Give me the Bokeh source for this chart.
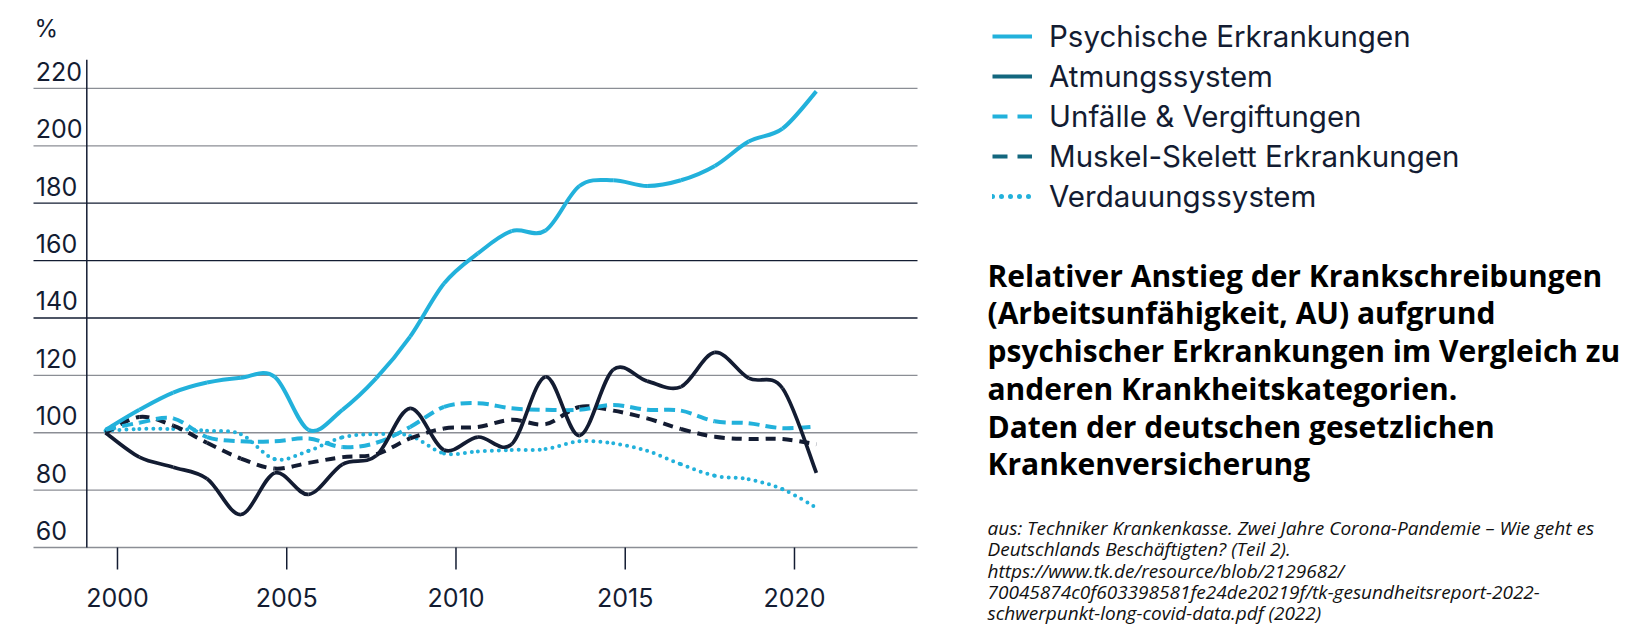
from bokeh.plotting import figure
from bokeh.models import Range1d, Label, Legend, LegendItem
from bokeh.embed import file_html
from bokeh.resources import INLINE
from bokeh.core.properties import value

# --- data (index, 2000 = 100) ---
years = list(range(2000, 2022))
psychisch = [101, 108, 114, 117.5, 119.2, 119.5, 101, 108, 119, 133.5, 152, 162.5,
             170.3, 170.5, 186, 188, 186, 188, 193, 201.5, 206, 219]
atmung = [100, 91.5, 88, 84, 71.5, 86, 78.5, 89, 92, 108.5, 94, 98.5,
          96, 119.5, 99, 122, 118, 116, 128, 119, 115.5, 86]
unfaelle = [101, 103.5, 105, 98.5, 97, 97, 98, 95, 96.5, 102, 109, 110.3,
            108.5, 108, 108, 109.7, 108, 107.7, 104, 103.3, 101.6, 102.2]
muskel = [100, 105.5, 102.5, 96.5, 91, 87.5, 89.5, 91.5, 92.5, 98, 101.5, 102,
          104.5, 103, 109, 107.7, 105, 101.3, 98.6, 97.8, 97.8, 96]
verdauung = [100.7, 101.3, 101.3, 100.7, 99.5, 90.8, 93.7, 98.4, 99.5, 98.9, 92.8, 93.5,
             94, 94.3, 97, 96.3, 93.7, 89, 85, 83.8, 80.3, 73.9]

series_names = ["Psychische Erkrankungen", "Atmungssystem", "Unfälle & Vergiftungen",
                "Muskel-Skelett Erkrankungen", "Verdauungssystem"]
y_ticks = [60, 80, 100, 120, 140, 160, 180, 200, 220]
dark_grid_ticks = [140, 160, 180]
x_tick_years = [2000, 2005, 2010, 2015, 2020]

title_lines = ["Relativer Anstieg der Krankschreibungen",
               "(Arbeitsunfähigkeit, AU) aufgrund",
               "psychischer Erkrankungen im Vergleich zu",
               "anderen Krankheitskategorien.",
               "Daten der deutschen gesetzlichen",
               "Krankenversicherung"]
source_lines = ["aus: Techniker Krankenkasse. Zwei Jahre Corona-Pandemie – Wie geht es",
                "Deutschlands Beschäftigten? (Teil 2).",
                "https://www.tk.de/resource/blob/2129682/",
                "70045874c0f603398581fe24de20219f/tk-gesundheitsreport-2022-",
                "schwerpunkt-long-covid-data.pdf (2022)"]

LIGHT = "#22b1db"
NAVY = "#131c32"
TEAL = "#13677e"
GRAY = "#8b8e95"
FONT = "Inter"
NAN = float("nan")

# --- layout: one frame over the whole canvas, chart box inside it ---
W, H = 1625, 631
CL, CB, CW = 33, 547, 884    # chart box left / bottom / width (canvas px)
PX_YEAR = 33.85              # px per year
PX_UNIT = 2.869              # px per index point
TICK_SHIFT = 0.354           # year ticks sit a bit right of the data points
Y0 = 60
X0 = years[0] - 72 / PX_YEAR          # left end of grid lines
X1 = X0 + CW / PX_YEAR                # right end of grid lines
AXIS_X = X0 + 53.3 / PX_YEAR
x_lo = X0 - CL / PX_YEAR
y_lo = Y0 - (H - CB) / PX_UNIT
LIFT = 7                     # baseline correction for rendered text

p = figure(width=W, height=H, x_range=Range1d(x_lo, x_lo + W / PX_YEAR),
           y_range=Range1d(y_lo, y_lo + H / PX_UNIT), toolbar_location=None,
           output_backend="svg", x_axis_location=None, y_axis_location=None,
           min_border=0)
p.outline_line_color = None
p.grid.visible = False

# grid lines (three darker ones in the middle, as in the original)
grid_colors = [NAVY if t in dark_grid_ticks else GRAY for t in y_ticks]
p.segment(x0=[X0] * len(y_ticks), y0=y_ticks, x1=[X1] * len(y_ticks), y1=y_ticks,
          line_color=grid_colors, line_width=1.3)

# y axis: line plus labels sitting above their grid lines
p.segment(x0=[AXIS_X], y0=[Y0], x1=[AXIS_X], y1=[230], line_color=NAVY, line_width=1.5)
p.text(x=[AXIS_X] * len(y_ticks), y=y_ticks, text=[str(t) for t in y_ticks],
       x_offset=-51, y_offset=-10 - LIFT, text_align="left", text_baseline="alphabetic",
       text_font=value(FONT), text_font_size="25px", text_color=NAVY)
p.add_layout(Label(x=34, y=H - 35 + LIFT, x_units="screen", y_units="screen", text="%",
                   text_font=FONT, text_font_size="24px", text_color=NAVY,
                   text_baseline="alphabetic"))

# x axis: ticks hanging below the 60 line, year labels under them
tick_x = [y + TICK_SHIFT for y in x_tick_years]
p.segment(x0=tick_x, y0=[Y0] * len(tick_x), x1=tick_x, y1=[Y0 - 22 / PX_UNIT] * len(tick_x),
          line_color=NAVY, line_width=1.5)
p.text(x=tick_x, y=[Y0] * len(tick_x), text=[str(y) for y in x_tick_years],
       y_offset=50, text_align="center", text_baseline="alphabetic",
       text_font=value(FONT), text_font_size="25px", text_color=NAVY)


def smooth(fig, xs, ys, **kw):
    # Catmull-Rom segments drawn as Bezier glyphs
    n = len(xs)
    d = dict(x0=[], y0=[], x1=[], y1=[], cx0=[], cy0=[], cx1=[], cy1=[])
    for i in range(n - 1):
        a, b = max(i - 1, 0), min(i + 2, n - 1)
        d["x0"].append(xs[i]); d["y0"].append(ys[i])
        d["x1"].append(xs[i + 1]); d["y1"].append(ys[i + 1])
        d["cx0"].append(xs[i] + (xs[i + 1] - xs[a]) / 6)
        d["cy0"].append(ys[i] + (ys[i + 1] - ys[a]) / 6)
        d["cx1"].append(xs[i + 1] - (xs[b] - xs[i]) / 6)
        d["cy1"].append(ys[i + 1] - (ys[b] - ys[i]) / 6)
    return fig.bezier(**d, **kw)


smooth(p, years, verdauung, line_color=LIGHT, line_width=4, line_dash="0 7", line_cap="round")
smooth(p, years, muskel, line_color=NAVY, line_width=4, line_dash="10 7")
smooth(p, years, unfaelle, line_color=LIGHT, line_width=4, line_dash="11 6")
smooth(p, years, atmung, line_color=NAVY, line_width=3.7)
smooth(p, years, psychisch, line_color=LIGHT, line_width=4)

# --- right side: legend, title, source (screen px from bottom-left) ---
legend_styles = [dict(line_color=LIGHT, line_width=4),
                 dict(line_color=TEAL, line_width=4),
                 dict(line_color=LIGHT, line_width=4, line_dash="15 10"),
                 dict(line_color=TEAL, line_width=4, line_dash="15 10"),
                 dict(line_color=LIGHT, line_width=5, line_dash="0 9", line_cap="round")]
items = []
for name, st in zip(series_names, legend_styles):
    r = p.line(x=[NAN], y=[NAN], **st)   # legend swatch only
    items.append(LegendItem(label=name, renderers=[r]))
ROW = 40
legend = Legend(items=items, location=(992, H - 16 - ROW * len(items)),
                padding=0, margin=0, spacing=0, glyph_width=40, glyph_height=ROW,
                label_height=ROW, label_standoff=17, label_text_font=FONT,
                label_text_font_size="29.5px", label_text_color=NAVY,
                border_line_color=None, background_fill_alpha=0)
p.add_layout(legend)

TEXT_X = 987
for i, line in enumerate(title_lines):
    base = 281.7 + i * 37.7 - LIFT
    p.add_layout(Label(x=TEXT_X, y=H - base, x_units="screen", y_units="screen", text=line,
                       text_font="Open Sans", text_font_style="bold", text_font_size="30px",
                       text_color="#000000", text_baseline="alphabetic"))
for i, line in enumerate(source_lines):
    base = 534.3 + i * 21.35 - LIFT
    p.add_layout(Label(x=TEXT_X, y=H - base, x_units="screen", y_units="screen", text=line,
                       text_font="Open Sans", text_font_style="italic", text_font_size="19px",
                       text_color="#111111", text_baseline="alphabetic"))

open("out.html", "w").write(file_html(p, INLINE))
